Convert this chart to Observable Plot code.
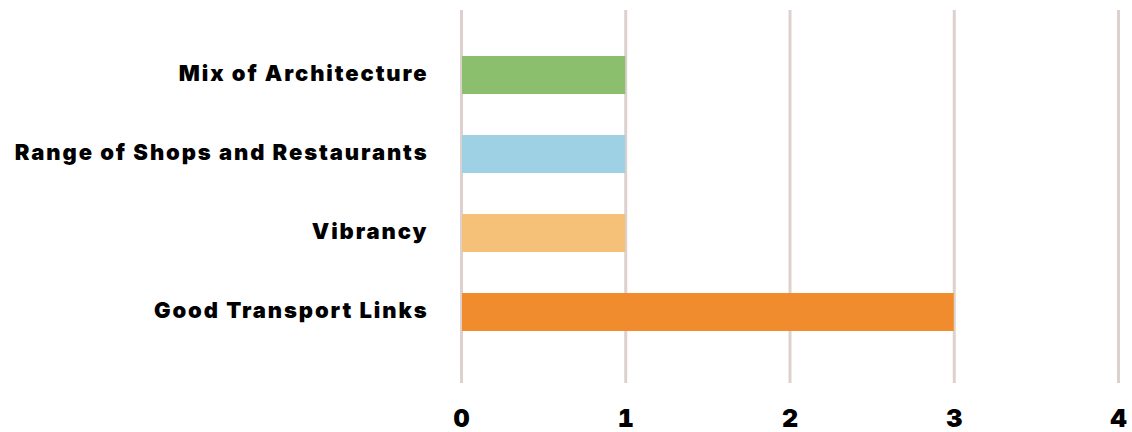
<!DOCTYPE html>
<html>
<head>
<meta charset="utf-8">
<script src="https://cdn.jsdelivr.net/npm/d3@7"></script>
<script src="https://cdn.jsdelivr.net/npm/@observablehq/plot@0.6"></script>
<style>
  html, body { margin: 0; padding: 0; background: #fff; }
  #chart svg { display: block; }
  #chart svg g[aria-label="y-axis tick label"] text { letter-spacing: 1.9px; }
</style>
</head>
<body>
<div id="chart"></div>
<script>
const categories = ["Mix of Architecture", "Range of Shops and Restaurants", "Vibrancy", "Good Transport Links"];
const values = [1, 1, 1, 3];
const colors = ["#8cbf6d", "#9fd1e5", "#f5c179", "#f08b2e"];
const xTicks = [0, 1, 2, 3, 4];

const data = categories.map((c, i) => ({category: c, value: values[i], color: colors[i]}));

const chart = Plot.plot({
  width: 1132,
  height: 432,
  marginLeft: 461,
  marginRight: 14,
  marginTop: 10,
  marginBottom: 49,
  style: {fontFamily: "Inter, sans-serif", background: "#fff"},
  x: {domain: [0, 4], ticks: xTicks},
  y: {domain: categories, range: [15.3, 370.7], paddingInner: 0.52, paddingOuter: 0.5},
  marks: [
    Plot.ruleX(xTicks, {stroke: "#ddd1cd", strokeWidth: 3}),
    Plot.barX(data, {x: "value", y: "category", fill: "color", insetLeft: 1}),
    Plot.axisX({ticks: xTicks, tickFormat: d3.format("d"), tickSize: 0, tickPadding: 26, fontSize: 25, fontWeight: 900, fill: "#000", stroke: "#000", strokeWidth: 0.8, label: null}),
    Plot.axisY({tickSize: 0, tickPadding: 33, dy: -2, fontSize: 22, fontWeight: 900, fill: "#000", stroke: "#000", strokeWidth: 0.6, label: null})
  ]
});
document.getElementById("chart").appendChild(chart);
</script>
</body>
</html>
